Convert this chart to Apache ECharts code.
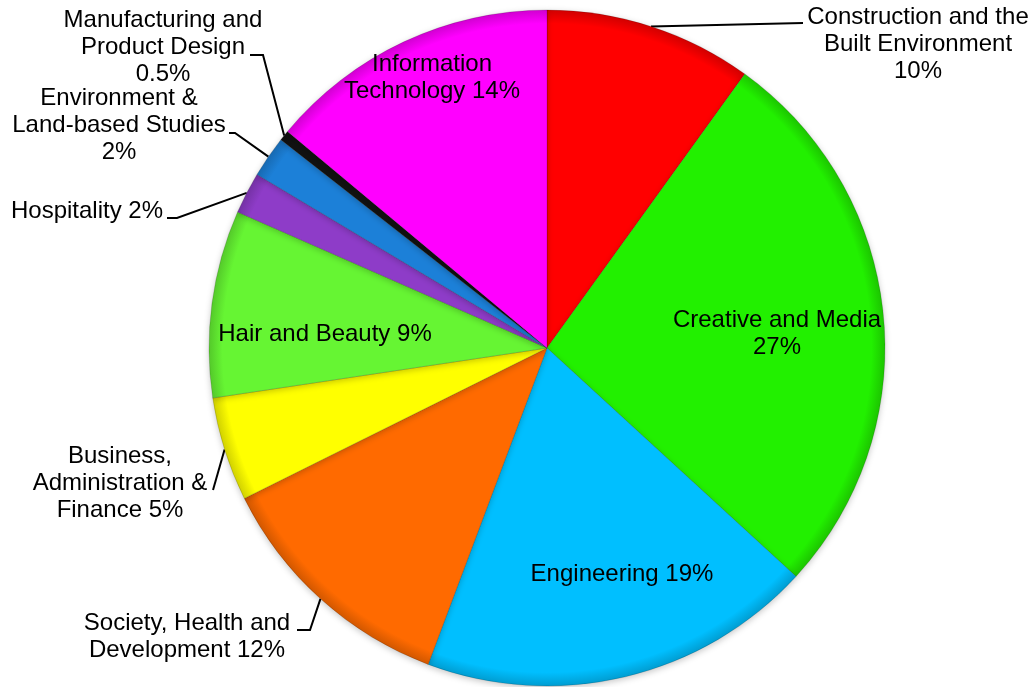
<!DOCTYPE html>
<html><head><meta charset="utf-8">
<script src="https://cdn.jsdelivr.net/npm/echarts@6/dist/echarts.min.js"></script>
<style>html,body{margin:0;padding:0;background:#fff}#c{width:1033px;height:687px}</style>
</head><body><div id="c"></div>
<script>
const categories = ['Construction and the Built Environment','Creative and Media','Engineering','Society, Health and Development','Business, Administration & Finance','Hair and Beauty','Hospitality','Environment & Land-based Studies','Manufacturing and Product Design','Information Technology'];
const shares = [10, 27, 19, 12, 5, 9, 2, 2, 0.5, 14];
const labelTexts = [
  'Construction and the\nBuilt Environment\n10%',
  'Creative and Media\n27%',
  'Engineering 19%',
  'Society, Health and\nDevelopment 12%',
  'Business,\nAdministration &\nFinance 5%',
  'Hair and Beauty 9%',
  'Hospitality 2%',
  'Environment &\nLand-based Studies\n2%',
  'Manufacturing and\nProduct Design\n0.5%',
  'Information\nTechnology 14%'
];
const colors = ['#FF0000','#22F000','#00BFFF','#FF6A00','#FFFF00','#66F533','#8E3CC8','#1C80D8','#111111','#FF00FF'];

// layout (pixel placement of labels and leader-line bends)
const CX = 547, CY = 348, R = 338;
const labelPlacement = [
  {x: 918, y: 44, line: [[803, 23]]},
  {x: 777, y: 334, inside: true},
  {x: 622, y: 574, inside: true},
  {x: 187, y: 637, line: [[310, 630], [297, 630]]},
  {x: 120, y: 483, line: [[213, 490]]},
  {x: 325, y: 334, inside: true},
  {x: 87, y: 211, line: [[177, 218], [167, 218]]},
  {x: 119, y: 125, line: [[235, 133], [229, 133]]},
  {x: 163, y: 47, line: [[263, 55], [250, 55]]},
  {x: 432, y: 78, inside: true}
];

function darken(hex, f) {
  const n = parseInt(hex.slice(1), 16);
  const r = Math.round(((n >> 16) & 255) * (1 - f));
  const g = Math.round(((n >> 8) & 255) * (1 - f));
  const b = Math.round((n & 255) * (1 - f));
  return 'rgb(' + r + ',' + g + ',' + b + ')';
}

const total = shares.reduce((a, b) => a + b, 0);
function arcPoint(i) {
  let before = 0;
  for (let k = 0; k < i; k++) before += shares[k];
  const mid = (before + shares[i] / 2) / total * Math.PI * 2;
  return [CX + R * Math.sin(mid), CY - R * Math.cos(mid)];
}

const data = categories.map((name, i) => {
  const c = colors[i];
  const p = labelPlacement[i];
  return {
    name: name,
    value: shares[i],
    itemStyle: {
      color: {
        type: 'radial', x: CX, y: CY, r: R, global: true,
        colorStops: [
          {offset: 0, color: c},
          {offset: 0.96, color: c},
          {offset: 1, color: darken(c, 0.18)}
        ]
      }
    },
    label: {position: p.inside ? 'inside' : 'outside'},
    labelLine: {show: !p.inside}
  };
});

const chart = echarts.init(document.getElementById('c'), null, {renderer: 'canvas'});
chart.setOption({
  animation: false,
  backgroundColor: '#fff',
  series: [{
    type: 'pie',
    center: [CX, CY],
    radius: R,
    startAngle: 90,
    clockwise: true,
    avoidLabelOverlap: false,
    emphasis: {disabled: true},
    itemStyle: {
      borderColor: 'rgba(0,0,0,0.15)',
      borderWidth: 1,
      shadowBlur: 6,
      shadowColor: 'rgba(0,0,0,0.22)',
      shadowOffsetY: 2
    },
    label: {
      show: true,
      formatter: (p) => labelTexts[p.dataIndex],
      color: '#000',
      fontFamily: '"Liberation Sans", Arial, sans-serif',
      fontSize: 24,
      lineHeight: 27,
      align: 'center'
    },
    labelLine: {
      show: true,
      lineStyle: {color: '#000', width: 2}
    },
    labelLayout: function (params) {
      const i = params.dataIndex;
      const p = labelPlacement[i];
      const res = {x: p.x, y: p.y, align: 'center', verticalAlign: 'middle'};
      if (p.line) {
        const start = (params.labelLinePoints && params.labelLinePoints[0]) || arcPoint(i);
        res.labelLinePoints = [start].concat(p.line);
      }
      return res;
    },
    data: data
  }]
});
</script>
</body></html>
